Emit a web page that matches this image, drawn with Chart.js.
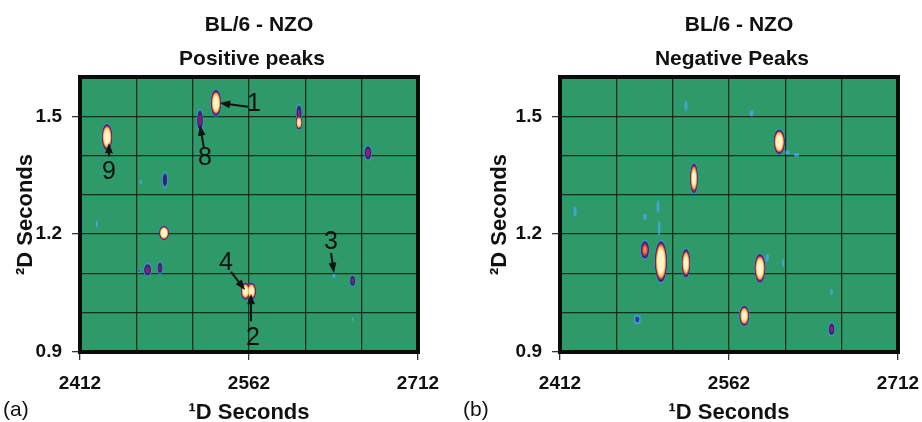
<!DOCTYPE html>
<html>
<head>
<meta charset="utf-8">
<script src="https://cdn.jsdelivr.net/npm/chart.js@4.4.0/dist/chart.umd.min.js"></script>
<style>
  body { margin: 0; background: #fff; overflow: hidden; }
  #wrap { position: relative; width: 922px; height: 422px; overflow: hidden; }
  canvas { position: absolute; top: 0; }
</style>
</head>
<body>
<div id="wrap">
  <canvas id="panelA" width="460" height="422" style="left:0px"></canvas>
  <canvas id="panelB" width="472" height="422" style="left:460px"></canvas>
</div>
<script>
// axes (both panels share them)
const xMin = 2412, xMax = 2712;
const yMin = 0.9, yMax = 1.6;
const xGrid = [2412, 2462, 2512, 2562, 2612, 2662, 2712];
const xTickLabels = [2412, 2562, 2712];
const yGrid = [0.9, 1.0, 1.1, 1.2, 1.3, 1.4, 1.5, 1.6];
const yTickLabels = [0.9, 1.2, 1.5];

// (a) positive peaks : 1D seconds, 2D seconds, half width 1D, half width 2D, peak height
const posX   = [2532.7, 2518.5, 2436.0, 2606.4, 2606.4, 2667.6, 2487.4, 2466.0, 2427.0, 2486.6, 2472.0, 2464.4, 2483.0, 2558.8, 2564.2, 2637.4, 2654.0, 2654.0];
const posY   = [1.534, 1.490, 1.447, 1.508, 1.484, 1.407, 1.338, 1.333, 1.226, 1.203, 1.109, 1.107, 1.114, 1.055, 1.055, 1.093, 1.081, 0.984];
const posWx  = [4.8, 3.0, 4.8, 2.8, 3.0, 3.6, 2.5, 1.2, 1.0, 4.6, 3.6, 1.4, 2.6, 4.2, 4.2, 1.4, 2.6, 0.9];
const posWy  = [0.035, 0.030, 0.035, 0.024, 0.019, 0.020, 0.022, 0.005, 0.009, 0.019, 0.017, 0.007, 0.017, 0.023, 0.023, 0.006, 0.015, 0.005];
const posAmp = [2000, 14, 3000, 12, 600, 16, 7, 1.5, 1.5, 3000, 16, 2.5, 10, 1500, 1500, 1.5, 14, 1.5];

// numbered arrows in (a)
const annText  = ['1', '8', '9', '4', '2', '3'];
const annX     = [2566.4, 2523.0, 2437.7, 2541.6, 2565.6, 2634.8];
const annY     = [1.530, 1.394, 1.358, 1.127, 0.936, 1.180];
const annFromX = [2561.0, 2522.0, 2437.7, 2546.0, 2563.8, 2634.8];
const annFromY = [1.524, 1.419, 1.398, 1.104, 0.978, 1.152];
const annToX   = [2536.0, 2518.5, 2437.7, 2558.5, 2563.8, 2637.4];
const annToY   = [1.534, 1.477, 1.432, 1.058, 1.048, 1.101];

// (b) negative peaks
const negX   = [2606.6, 2614.0, 2622.0, 2530.9, 2487.4, 2501.6, 2523.8, 2589.5, 2575.6, 2480.6, 2653.1, 2523.8, 2582.0, 2425.3, 2487.4, 2499.0, 2500.0, 2653.0, 2610.0, 2596.0];
const negY   = [1.435, 1.408, 1.402, 1.342, 1.160, 1.130, 1.126, 1.113, 0.992, 0.983, 0.958, 1.526, 1.508, 1.257, 1.244, 1.270, 1.215, 1.053, 1.127, 1.140];
const negWx  = [5.2, 2.0, 2.5, 3.6, 4.0, 5.6, 4.0, 5.0, 4.6, 3.0, 3.0, 1.4, 1.6, 1.4, 1.5, 1.4, 1.2, 1.2, 1.0, 1.5];
const negWy  = [0.033, 0.006, 0.005, 0.040, 0.025, 0.055, 0.038, 0.038, 0.027, 0.012, 0.018, 0.012, 0.008, 0.012, 0.008, 0.016, 0.020, 0.008, 0.010, 0.010];
const negAmp = [3000, 1.5, 1.5, 1200, 60, 4000, 1200, 3000, 1200, 3, 14, 1.5, 1.5, 1.5, 1.5, 1.5, 1.5, 1.5, 1.5, 1.5];

// contour thresholds and their colours, outside in
const contourLevels = [1, 2, 4, 8, 16, 32, 64, 256];
const contourColors = ['rgba(70,165,230,0.85)', '#2b3aa4', '#3e1e70', '#8a2468', '#cd3b4f', '#ec8a3c', '#f4cf66', '#fff4c8'];

const plotGreen = '#2f9a69';
const gridColor = 'rgba(12,30,20,0.85)';
const fontFamily = "'Liberation Sans', Arial, sans-serif";

Chart.defaults.font.family = fontFamily;
Chart.defaults.color = '#111';

////////////////////////////////////////////////////////////////////////////////////

function drawArrow(ctx, x1, y1, x2, y2) {
    const a = Math.atan2(y2 - y1, x2 - x1);
    const hl = 11;
    ctx.beginPath();
    ctx.moveTo(x1, y1);
    ctx.lineTo(x2 - Math.cos(a) * hl * 0.7, y2 - Math.sin(a) * hl * 0.7);
    ctx.stroke();
    ctx.beginPath();
    ctx.moveTo(x2, y2);
    ctx.lineTo(x2 - hl * Math.cos(a - 0.36), y2 - hl * Math.sin(a - 0.36));
    ctx.lineTo(x2 - hl * Math.cos(a + 0.36), y2 - hl * Math.sin(a + 0.36));
    ctx.closePath();
    ctx.fill();
}

function panelPlugin(letter, titles, ann) {
    return {
        id: 'panel' + letter,
        beforeDraw(chart) {
            const a = chart.chartArea, ctx = chart.ctx;
            ctx.save();
            ctx.fillStyle = plotGreen;
            ctx.fillRect(a.left, a.top, a.right - a.left, a.bottom - a.top);
            ctx.restore();
        },
        afterDatasetsDraw(chart) {
            const ctx = chart.ctx, a = chart.chartArea;
            const xs = chart.scales.x, ys = chart.scales.y;
            const meta = chart.getDatasetMeta(0);
            const raw = chart.data.datasets[0].data;
            ctx.save();
            ctx.beginPath();
            ctx.rect(a.left, a.top, a.right - a.left, a.bottom - a.top);
            ctx.clip();
            // level by level so that touching peaks merge
            for (let k = 0; k < contourLevels.length; k++) {
                meta.data.forEach(function(pt, i) {
                    const p = raw[i];
                    if (p.amp <= contourLevels[k]) return;
                    const f = Math.sqrt(Math.log(p.amp / contourLevels[k]) / Math.log(p.amp / contourLevels[0]));
                    const rx = Math.abs(xs.getPixelForValue(p.x + p.wx) - pt.x) * f;
                    const ry = Math.abs(ys.getPixelForValue(p.y + p.wy) - pt.y) * f;
                    ctx.beginPath();
                    ctx.ellipse(pt.x, pt.y, Math.max(rx, 0.6), Math.max(ry, 0.6), 0, 0, Math.PI * 2);
                    ctx.fillStyle = contourColors[k];
                    ctx.fill();
                });
            }
            ctx.restore();

            if (ann) {
                ctx.save();
                ctx.strokeStyle = '#111';
                ctx.fillStyle = '#111';
                ctx.lineWidth = 2;
                for (let i = 0; i < ann.text.length; i++) {
                    drawArrow(ctx,
                        xs.getPixelForValue(ann.fromX[i]), ys.getPixelForValue(ann.fromY[i]),
                        xs.getPixelForValue(ann.toX[i]), ys.getPixelForValue(ann.toY[i]));
                }
                ctx.font = '25px ' + fontFamily;
                ctx.textAlign = 'center';
                ctx.textBaseline = 'middle';
                for (let i = 0; i < ann.text.length; i++) {
                    ctx.fillText(ann.text[i], xs.getPixelForValue(ann.x[i]), ys.getPixelForValue(ann.y[i]));
                }
                ctx.restore();
            }
        },
        afterDraw(chart) {
            const a = chart.chartArea, ctx = chart.ctx;
            const mid = (a.left + a.right) / 2;
            ctx.save();
            ctx.strokeStyle = '#0b0b0b';
            ctx.lineWidth = 4;
            ctx.strokeRect(a.left, a.top, a.right - a.left, a.bottom - a.top);
            ctx.fillStyle = '#111';
            ctx.textBaseline = 'middle';
            // two title lines above the plot
            ctx.textAlign = 'center';
            ctx.font = 'bold 21px ' + fontFamily;
            ctx.fillText(titles[0], mid + 10, 25);
            ctx.fillText(titles[1], mid + 3, 59);
            ctx.textAlign = 'left';
            ctx.font = '21px ' + fontFamily;
            ctx.fillText('(' + letter + ')', 3, 410);
            ctx.restore();
        }
    };
}

function makePanel(id, letter, titles, xs, ys, wx, wy, amp, ann, pad, yWidth) {
    const points = xs.map(function(x, i) {
        return { x: x, y: ys[i], wx: wx[i], wy: wy[i], amp: amp[i] };
    });
    return new Chart(document.getElementById(id), {
        type: 'scatter',
        data: { datasets: [{ data: points, pointRadius: 0, pointHoverRadius: 0 }] },
        options: {
            responsive: false,
            animation: false,
            events: [],
            layout: { padding: pad },
            plugins: {
                legend: { display: false },
                tooltip: { enabled: false }
            },
            scales: {
                x: {
                    type: 'linear', min: xMin, max: xMax,
                    afterBuildTicks: function(s) { s.ticks = xGrid.map(v => ({ value: v })); },
                    afterFit: function(s) { s.height = 70; },
                    border: { display: false },
                    grid: {
                        color: gridColor, lineWidth: 1.3, tickLength: 8,
                        tickColor: c => (c.tick && xTickLabels.includes(c.tick.value)) ? '#333' : 'rgba(0,0,0,0)'
                    },
                    ticks: {
                        autoSkip: false, maxRotation: 0, padding: 12, color: '#111',
                        font: { size: 19, weight: 'bold' },
                        callback: v => xTickLabels.includes(v) ? String(v) : ''
                    },
                    title: {
                        display: true, text: '¹D Seconds', color: '#111',
                        font: { size: 22, weight: 'bold' }, padding: { top: 0, bottom: -4 }
                    }
                },
                y: {
                    type: 'linear', min: yMin, max: yMax,
                    afterBuildTicks: function(s) { s.ticks = yGrid.map(v => ({ value: v })); },
                    afterFit: function(s) { s.width = yWidth; },
                    border: { display: false },
                    grid: {
                        color: gridColor, lineWidth: 1.3, tickLength: 8,
                        tickColor: c => (c.tick && yTickLabels.includes(c.tick.value)) ? '#333' : 'rgba(0,0,0,0)'
                    },
                    ticks: {
                        padding: 10, color: '#111',
                        font: { size: 19, weight: 'bold' },
                        callback: v => yTickLabels.includes(v) ? v.toFixed(1) : ''
                    },
                    title: {
                        display: true, text: '²D Seconds', color: '#111',
                        font: { size: 22, weight: 'bold' }, padding: { top: 13, bottom: 0 }
                    }
                }
            }
        },
        plugins: [panelPlugin(letter, titles, ann)]
    });
}

////////////////////////////////////////////////////////////////////////////////////

const annA = { text: annText, x: annX, y: annY, fromX: annFromX, fromY: annFromY, toX: annToX, toY: annToY };

makePanel('panelA', 'a', ['BL/6 - NZO', 'Positive peaks'], posX, posY, posWx, posWy, posAmp, annA,
    { left: 0, right: 42, top: 77, bottom: 0 }, 80);
makePanel('panelB', 'b', ['BL/6 - NZO', 'Negative Peaks'], negX, negY, negWx, negWy, negAmp, null,
    { left: 14, right: 34, top: 77, bottom: 0 }, 86);
</script>
</body>
</html>
